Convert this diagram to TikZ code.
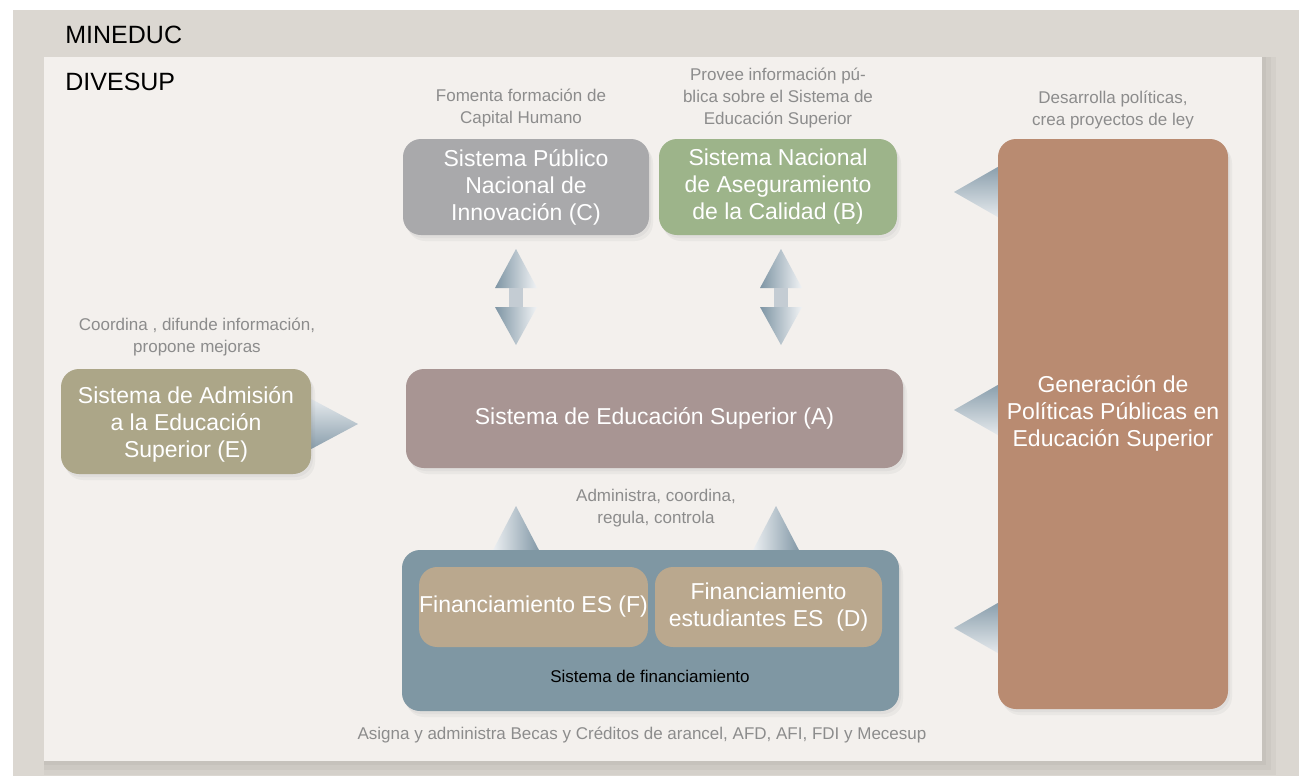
\documentclass[tikz,border=0pt]{standalone}
\usepackage{fontspec}
\setmainfont{Liberation Sans}
\usetikzlibrary{shadows}

\definecolor{outergrey}{HTML}{DBD7D1}
\definecolor{innerpaper}{HTML}{F3F0ED}
\definecolor{innovgrey}{HTML}{A9A9AB}
\definecolor{calidadgreen}{HTML}{9DB48A}
\definecolor{esmauve}{HTML}{A89593}
\definecolor{admolive}{HTML}{ACA688}
\definecolor{politbrown}{HTML}{B98B71}
\definecolor{finblue}{HTML}{7F97A3}
\definecolor{finsand}{HTML}{BAA88E}
\definecolor{notegrey}{HTML}{8C8C8C}
\definecolor{arrdark}{HTML}{7E95A4}
\definecolor{arrlight}{HTML}{F1F3F5}
\definecolor{arrshaft}{HTML}{C4CCD3}

\tikzset{
  sysbox/.style={rounded corners=9pt, inner sep=0pt, align=center, text=white,
    font=\fontsize{11.5}{13.5}\selectfont,
    drop shadow={shadow xshift=1pt, shadow yshift=-1.5pt, opacity=0.08},
    drop shadow={shadow xshift=2pt, shadow yshift=-3pt, opacity=0.08}},
  subbox/.style={rounded corners=9pt, inner sep=0pt, align=center, text=white,
    fill=finsand, font=\fontsize{11.5}{13.5}\selectfont},
  boxtext/.style={inner sep=0pt, align=center, text=white,
    font=\fontsize{11.5}{13.5}\selectfont},
  note/.style={align=center, text=notegrey, inner sep=0pt,
    font=\fontsize{8.5}{11}\selectfont},
  header/.style={anchor=west, inner sep=0pt, font=\fontsize{12.5}{15}\selectfont}
}

\begin{document}
\begin{tikzpicture}[x=0.5pt, y=-0.5pt]
\useasboundingbox (0,0) rectangle (1299,776);
\fill[white] (0,0) rectangle (1299,776);

% panels
\fill[outergrey] (13,10) rectangle (1299,776);
\fill[black, opacity=0.03] (44,57) rectangle (1276,775);
\fill[black, opacity=0.03] (44,57) rectangle (1271,770);
\fill[black, opacity=0.03] (44,57) rectangle (1266,765);
\fill[innerpaper] (44,57) rectangle (1262,761);

\node[header] (mineduc) at (65,35) {MINEDUC};
\node[header] (divesup) at (65,82) {DIVESUP};

% arrows
\shade[left color=arrdark, right color=arrlight] (516,249) -- (537,288) -- (495,288) -- cycle;
\fill[arrshaft] (509,288) rectangle (523,307);
\shade[left color=arrdark, right color=arrlight] (495,307) -- (537,307) -- (516,345) -- cycle;

\shade[left color=arrdark, right color=arrlight] (781,249) -- (802,288) -- (760,288) -- cycle;
\fill[arrshaft] (774,288) rectangle (788,307);
\shade[left color=arrdark, right color=arrlight] (760,307) -- (802,307) -- (781,345) -- cycle;

\shade[left color=arrlight, right color=arrdark] (516,506) -- (541,554) -- (491,554) -- cycle;
\shade[left color=arrlight, right color=arrdark] (776,506) -- (801,554) -- (751,554) -- cycle;

\shade[top color=arrlight, bottom color=arrdark] (358,424) -- (300,455) -- (300,393) -- cycle;

\shade[top color=arrdark, bottom color=arrlight] (954,192) -- (1010,160) -- (1010,224) -- cycle;
\shade[top color=arrdark, bottom color=arrlight] (954,410) -- (1010,378) -- (1010,442) -- cycle;
\shade[top color=arrdark, bottom color=arrlight] (954,628) -- (1010,596) -- (1010,660) -- cycle;

% boxes
\node[sysbox, fill=innovgrey, minimum width=123pt, minimum height=48pt] (innov) at (526,187)
  {Sistema Público\\Nacional de\\Innovación (C)};
\node[sysbox, fill=calidadgreen, minimum width=119pt, minimum height=48pt] (calidad) at (778,187)
  {Sistema Nacional\\de Aseguramiento\\de la Calidad (B)};
\node[sysbox, fill=esmauve, minimum width=248.5pt, minimum height=49.5pt] (edsup) at (654.5,418.5)
  {Sistema de Educación Superior (A)};
\node[sysbox, fill=admolive, minimum width=125pt, minimum height=52.5pt] (admision) at (186,421.5) {};
\node[boxtext] (admisiontext) at (186,424) {Sistema de Admisión\\a la Educación\\Superior (E)};
\node[sysbox, fill=politbrown, minimum width=115pt, minimum height=285pt] (politicas) at (1113,424) {};
\node[boxtext] (politicastext) at (1113,413) {Generación de\\Políticas Públicas en\\Educación Superior};
\node[sysbox, fill=finblue, minimum width=248.5pt, minimum height=80.5pt] (finsis) at (650.5,630.5) {};
\node[subbox, minimum width=113.5pt, minimum height=40pt] (finES) at (533.5,607)
  {Financiamiento ES (F)};
\node[subbox, minimum width=113.5pt, minimum height=40pt] (finEst) at (768.5,607)
  {Financiamiento\\estudiantes ES~~(D)};
\node[note, text=black] (finlabel) at (650,676) {Sistema de financiamiento};

% notes
\node[note] (noteC) at (521,108) {Fomenta formación de\\Capital Humano};
\node[note] (noteB) at (778,98) {Provee información pú-\\blica sobre el Sistema de\\Educación Superior};
\node[note] (noteG) at (1113,110) {Desarrolla políticas,\\crea proyectos de ley};
\node[note] (noteE) at (197,337) {Coordina , difunde información,\\propone mejoras};
\node[note] (noteA) at (656,508) {Administra, coordina,\\regula, controla};
\node[note] (noteF) at (642,735) {Asigna y administra Becas y Créditos de arancel, AFD, AFI, FDI y Mecesup};

\end{tikzpicture}
\end{document}
